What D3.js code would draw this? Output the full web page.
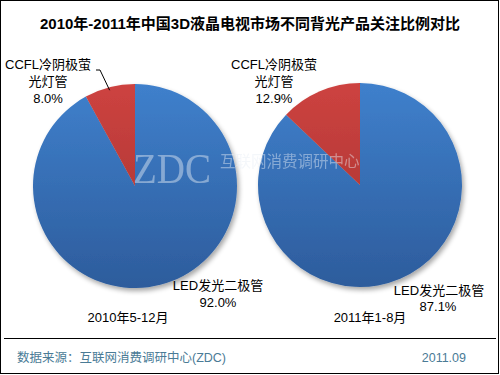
<!DOCTYPE html>
<html><head><meta charset="utf-8">
<script src="https://cdn.jsdelivr.net/npm/d3@7"></script>
<style>
html,body{margin:0;padding:0;background:#fff;}
text{font-family:"Liberation Sans",Arial,"Noto Sans CJK SC",sans-serif;}
</style></head>
<body><div id="chart"></div>
<script>
const title = "2010年-2011年中国3D液晶电视市场不同背光产品关注比例对比";
const periods = ["2010年5-12月", "2011年1-8月"];
const categories = ["LED发光二极管", "CCFL冷阴极萤光灯管"];
const ledValues = [92.0, 87.1];
const ccflValues = [8.0, 12.9];
const source = "数据来源：互联网消费调研中心(ZDC)";
const dateLabel = "2011.09";

const W = 500, H = 375;
const svg = d3.select("#chart").append("svg").attr("width", W).attr("height", H);
const defs = svg.append("defs");

const f = defs.append("filter").attr("id","shadow").attr("x","-10%").attr("y","-10%").attr("width","125%").attr("height","125%");
f.append("feGaussianBlur").attr("in","SourceAlpha").attr("stdDeviation",2.5).attr("result","b");
f.append("feOffset").attr("in","b").attr("dx",2).attr("dy",3).attr("result","o");
f.append("feComponentTransfer").attr("in","o").attr("result","o2").append("feFuncA").attr("type","linear").attr("slope",0.35);
const fm = f.append("feMerge"); fm.append("feMergeNode").attr("in","o2"); fm.append("feMergeNode").attr("in","SourceGraphic");

const colors = [["#3f80cc","#2d5c9c"],["#cd4340","#a3302f"]];

// frame
svg.append("rect").attr("x",0.5).attr("y",0.5).attr("width",498).attr("height",373)
  .attr("fill","none").attr("stroke","#000").attr("stroke-width",1);
svg.append("line").attr("x1",4).attr("x2",496).attr("y1",338.5).attr("y2",338.5).attr("stroke","#000").attr("stroke-width",1.2);

svg.append("text").attr("x",250).attr("y",29).attr("text-anchor","middle")
  .attr("font-size",15).attr("font-weight","bold").attr("fill","#000").text(title);

const centers = [[135,186],[360,185]];
const R = 102;
const pie = d3.pie().sort(null).value(d=>d.v);
const arc = d3.arc().innerRadius(0).outerRadius(R);

periods.forEach((p,i)=>{
  const data = [{k:categories[0], v:ledValues[i], c:0},{k:categories[1], v:ccflValues[i], c:1}];
  const arcs = pie(data);
  const g = svg.append("g").attr("transform",`translate(${centers[i][0]},${centers[i][1]})`);
  const pg = g.append("g").attr("filter","url(#shadow)");
  arcs.forEach(a=>{
    const gid = `pg${i}_${a.data.c}`;
    const lg = defs.append("linearGradient").attr("id",gid).attr("gradientUnits","userSpaceOnUse")
      .attr("x1",0).attr("y1",-R).attr("x2",0).attr("y2",R);
    lg.append("stop").attr("offset","0%").attr("stop-color",colors[a.data.c][0]);
    lg.append("stop").attr("offset","100%").attr("stop-color",colors[a.data.c][1]);
    pg.append("path").attr("d",arc(a)).attr("fill",`url(#${gid})`);
  });
});

// watermark
const wm = svg.append("g").attr("opacity",0.45);
wm.append("text").attr("x",133).attr("y",183).style("font-family","'Liberation Serif','DejaVu Serif',serif")
  .attr("font-size",42).attr("fill","#e8eef6").attr("textLength",78).attr("lengthAdjust","spacingAndGlyphs").text("ZDC");
wm.append("text").attr("x",220).attr("y",167).style("font-family","'Noto Sans CJK SC',sans-serif")
  .attr("font-size",15.5).attr("fill","#e8eef6").text("互联网消费调研中心");

// labels
const fs = 13;
function lbl(x,y,t,anchor){
  svg.append("text").attr("x",x).attr("y",y).attr("text-anchor",anchor||"middle").attr("font-size",fs).attr("fill","#000").text(t);
}
const pct = v=>d3.format(".1f")(v)+"%";
// pie 1
lbl(48,69,"CCFL冷阴极萤"); lbl(48,86,"光灯管"); lbl(48,103,pct(ccflValues[0]));
lbl(218,290,categories[0]); lbl(218,307,pct(ledValues[0]));
lbl(128,322,periods[0]);
{
  const a = pie([{v:ledValues[0]},{v:ccflValues[0]}])[1];
  const mid = (a.startAngle+a.endAngle)/2;
  const ex = centers[0][0] + R*Math.sin(mid), ey = centers[0][1] - R*Math.cos(mid);
  svg.append("polyline").attr("points",`96,70 100,70 ${ex},${ey+3}`).attr("fill","none").attr("stroke","#000").attr("stroke-width",1);
}
// pie 2
lbl(274,69,"CCFL冷阴极萤"); lbl(274,86,"光灯管"); lbl(274,103,pct(ccflValues[1]));
lbl(439,295,categories[0]); lbl(438,311,pct(ledValues[1]));
lbl(370,322,periods[1]);

// footer
svg.append("text").attr("x",17).attr("y",362).attr("font-size",12.5).attr("fill","#4a7b96").text(source);
svg.append("text").attr("x",466).attr("y",362).attr("text-anchor","end").attr("font-size",12.5).attr("fill","#4a7b96").text(dateLabel);
</script></body></html>
